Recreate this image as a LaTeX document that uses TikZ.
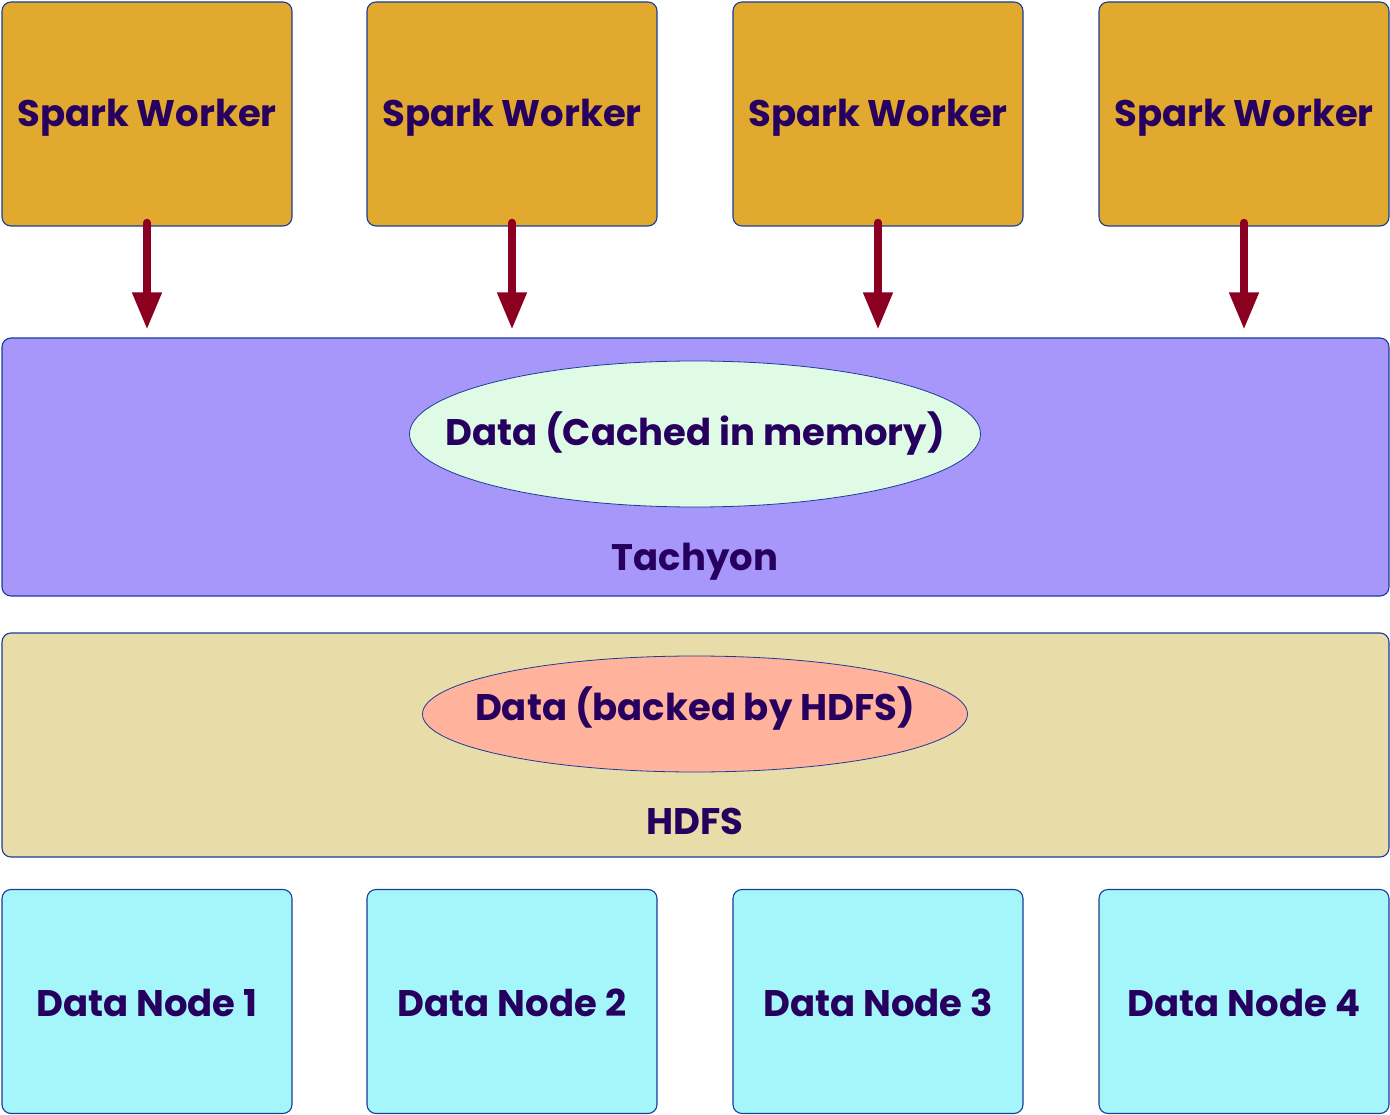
\documentclass[tikz,border=0pt]{standalone}
\usepackage{fontspec}
\setmainfont{Poppins}
\usetikzlibrary{arrows.meta,shapes.geometric}
\definecolor{gold}{HTML}{E2A92F}
\definecolor{tachy}{HTML}{A797FA}
\definecolor{mint}{HTML}{DFFBE5}
\definecolor{beige}{HTML}{E8DCA8}
\definecolor{salmon}{HTML}{FFB39C}
\definecolor{cyanbox}{HTML}{A5F6FB}
\definecolor{txt}{HTML}{27005F}
\definecolor{arrred}{HTML}{8B0020}
\definecolor{bord}{HTML}{1A3C9A}
\tikzset{
  lbl/.style={font=\fontsize{37}{40}\selectfont\bfseries, text=txt, inner sep=0pt},
  box/.style={draw=bord, line width=1.1pt, rounded corners=9pt, inner sep=0pt},
  worker/.style={box, fill=gold, minimum width=290pt, minimum height=224pt},
  dnode/.style={box, fill=cyanbox, minimum width=290pt, minimum height=224pt},
  band/.style={draw=bord, line width=1.1pt, rounded corners=9pt, inner sep=0pt, minimum width=1387pt},
  oval/.style={ellipse, draw=bord, line width=0.8pt, inner sep=0pt},
  arr/.style={draw=arrred, line width=7.5pt, line cap=round, -{Triangle[length=37pt,width=28pt]}},
}
\begin{document}
\begin{tikzpicture}[x=1pt,y=-1pt]
\useasboundingbox (0,0) rectangle (1390,1115);
\foreach \i/\x in {1/147,2/512,3/878,4/1244}{
  \node[worker, label={[lbl, yshift=-4pt]center:Spark Worker}] (sw\i) at (\x,114) {};
  \node[dnode, label={[lbl, yshift=-1pt]center:Data Node \i}] (dn\i) at (\x,1001.5) {};
}
\node[band, fill=tachy, minimum height=258pt] (tach) at (695.5,467) {};
\node[oval, fill=mint, minimum width=571pt, minimum height=146pt, label={[lbl]center:Data (Cached in memory)}] (cache) at (695,434) {};
\node[lbl, yshift=-4pt] (tachl) at (695,558) {Tachyon};
\node[band, fill=beige, minimum height=224pt] (hdfs) at (695.5,745) {};
\node[oval, fill=salmon, minimum width=545pt, minimum height=116pt, label={[lbl, yshift=5pt]center:Data (backed by HDFS)}] (backed) at (695,714) {};
\node[lbl] (hdfsl) at (695,821) {HDFS};
\foreach \i in {1,2,3,4}{
  \draw[arr] ([yshift=4pt]sw\i.south) -- ([yshift=8pt]sw\i.south |- tach.north);
}
\end{tikzpicture}
\end{document}
